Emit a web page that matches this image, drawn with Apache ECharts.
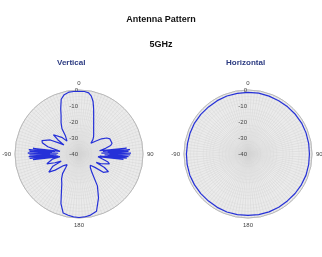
<!doctype html>
<html>
<head>
<meta charset="UTF-8">
<title>Antenna Pattern</title>
<script src="https://cdn.jsdelivr.net/npm/echarts@6/dist/echarts.min.js"></script>
<style>
  html, body { margin: 0; padding: 0; background: #fff; }
  #main { width: 322px; height: 257px; }
</style>
</head>
<body>
<div id="main"></div>
<script>
// angle in degrees, clockwise from top (left side stored as 180..360)
var vAngles = [0, 5, 9, 12, 15, 18, 20, 25, 30, 35, 40, 44, 48,
    52, 56, 60, 64, 68, 72, 75, 78, 81, 82,
    83, 84, 85, 86, 87, 88, 89, 90, 91, 92, 93, 94, 95, 96, 97, 98,
    99, 102, 105, 108, 111, 114, 116, 118, 121, 124, 127, 130, 135, 140,
    145, 150, 156, 163, 170, 175, 180,
    185, 190, 195, 200, 205, 210, 215, 220, 224, 228,
    233, 236, 239, 242, 245, 248, 250, 253, 256, 259, 262,
    263, 264, 265, 266, 267, 268, 269, 270, 271, 272, 273, 274, 275, 276, 277, 278,
    280, 283, 287, 290, 293, 296, 299, 301, 304, 307, 309, 311, 314, 317,
    320, 323, 326, 330, 335, 338, 342, 346, 351, 355, 360];
var vGain = [-0.8, -0.8, -1.3, -3, -6, -10.4, -13.2, -18.3, -21.7, -24, -25.8, -27.5, -30,
    -27, -23, -20, -18.5, -18, -18.3, -19.5, -23, -27, -28,
    -10, -25, -8, -22, -9, -26, -7.5, -21, -8, -24, -9, -22, -10, -27, -12, -28,
    -28, -25, -21.5, -20, -20.5, -25, -28, -22, -18.5, -18.5, -21, -27, -30, -29,
    -26, -17, -10, -2.6, -1, -0.5, -0.3,
    -0.6, -1.1, -1.8, -7, -14, -18.5, -21, -24, -28, -30,
    -28, -22, -18, -17.6, -22, -28, -24, -19, -18.3, -23, -28,
    -11, -27, -9, -24, -8.5, -26, -9, -22, -8, -27, -9, -23, -8.5, -25, -11, -28,
    -26, -20, -16, -15.4, -16, -20, -26, -29, -24, -20, -19, -20, -25, -29,
    -29, -26, -21, -17.6, -13.5, -9.5, -4, -1.8, -0.8, -0.8, -0.8];

var hAngles = [0, 10, 20, 30, 40, 50, 60, 70, 80, 90, 100, 110, 120, 130, 140, 150, 160, 170, 180,
    190, 200, 210, 220, 230, 240, 250, 260, 270, 280, 290, 300, 310, 320, 330, 340, 350, 360];
var hGain = [-1.5, -1.4, -1.5, -1.6, -1.5, -1.4, -1.3, -1.4, -1.5, -1.6, -1.5, -1.4, -1.5, -1.6, -1.7, -1.6, -1.5, -1.5, -1.6,
    -1.5, -1.4, -1.5, -1.6, -1.5, -1.4, -1.3, -1.4, -1.5, -1.6, -1.5, -1.4, -1.5, -1.6, -1.5, -1.4, -1.5, -1.5];

var rRange = [-40, 0];
var angleLabels = { 0: '0', 90: '90', 180: '180', 270: '-90' };

function pairs(ang, val) {
    var out = [];
    for (var i = 0; i < ang.length; i++) out.push([val[i], ang[i]]);
    return out;
}

function angleAxis(idx) {
    return {
        polarIndex: idx, type: 'value', min: 0, max: 360, interval: 90,
        startAngle: 90, clockwise: true,
        axisLine: { lineStyle: { color: '#b0b0b0', width: 0.8 } },
        axisTick: { show: false },
        axisLabel: { fontSize: 6, color: '#444', margin: 4,
            formatter: function (v) { return angleLabels[v] === undefined ? '' : angleLabels[v]; } },
        splitLine: { lineStyle: { color: '#d4d4d4', width: 0.5 } },
        minorTick: { show: false, splitNumber: 30 },
        minorSplitLine: { show: true, lineStyle: { color: '#d4d4d4', width: 0.5 } }
    };
}

function radiusAxis(idx) {
    return {
        polarIndex: idx, type: 'value', min: rRange[0], max: rRange[1], interval: 10,
        axisLine: { show: false },
        axisTick: { show: false },
        axisLabel: { fontSize: 6, color: '#444', margin: 1 },
        splitLine: { lineStyle: { color: '#a0a0a0', width: 0.6 } },
        minorTick: { show: false, splitNumber: 5 },
        minorSplitLine: { show: true, lineStyle: { color: '#dadada', width: 0.4 } },
        splitArea: { show: true, areaStyle: { color: ['#ebebeb'] } }
    };
}

var chart = echarts.init(document.getElementById('main'));
chart.setOption({
    animation: false,
    title: [
        { text: 'Antenna Pattern', left: 'center', top: 10, textStyle: { fontSize: 9, fontWeight: 'bold', color: '#111' } },
        { text: '5GHz', left: 'center', top: 35, textStyle: { fontSize: 9, fontWeight: 'bold', color: '#111' } },
        { text: 'Vertical', left: 52, top: 54, textStyle: { fontSize: 8, fontWeight: 'bold', color: '#2b3a80' } },
        { text: 'Horizontal', left: 221, top: 54, textStyle: { fontSize: 8, fontWeight: 'bold', color: '#2b3a80' } }
    ],
    polar: [
        { center: [79, 154], radius: 64 },
        { center: [248, 154], radius: 64 }
    ],
    angleAxis: [angleAxis(0), angleAxis(1)],
    radiusAxis: [radiusAxis(0), radiusAxis(1)],
    series: [
        { type: 'line', coordinateSystem: 'polar', polarIndex: 0, showSymbol: false,
          lineStyle: { color: '#2530d8', width: 1.2 }, data: pairs(vAngles, vGain) },
        { type: 'line', coordinateSystem: 'polar', polarIndex: 1, showSymbol: false,
          lineStyle: { color: '#2530d8', width: 1.2 }, data: pairs(hAngles, hGain) }
    ]
});
</script>
</body>
</html>
